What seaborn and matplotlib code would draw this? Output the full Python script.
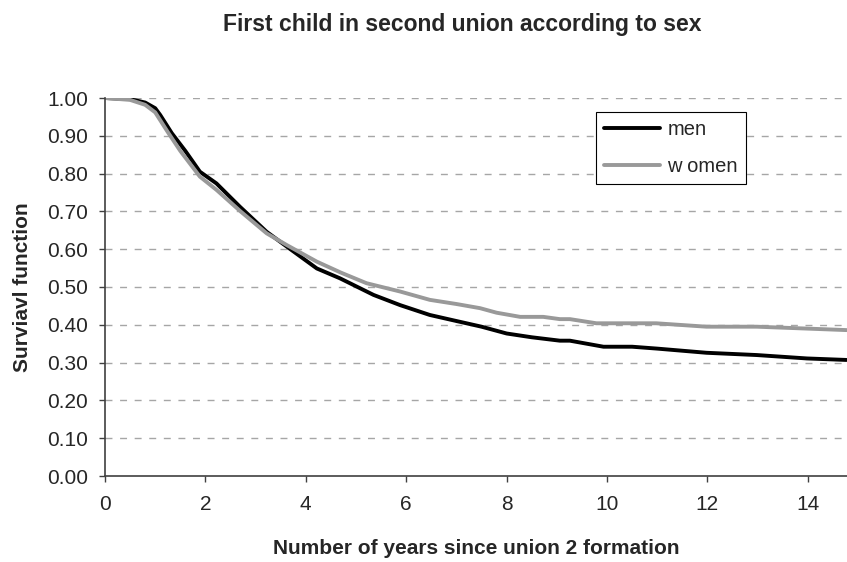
#!/usr/bin/env python3
"""
Survival curves: first child in second union, by sex
"""

import pandas as pd
import matplotlib.pyplot as plt
import seaborn as sns

# values
years_men = [0, 0.5, 0.8, 1.0, 1.1, 1.33, 1.6, 1.89, 2.22, 2.69, 3.22, 3.62, 4.22, 4.68,
             5.35, 5.88, 6.47, 7.0, 7.5, 8.0, 8.5, 9.06, 9.26, 9.93, 10.5, 11.0, 11.98,
             12.98, 13.98, 14.77]
surv_men = [1.0, 0.997, 0.988, 0.973, 0.955, 0.907, 0.86, 0.805, 0.774, 0.712, 0.646,
            0.607, 0.549, 0.523, 0.479, 0.452, 0.426, 0.41, 0.395, 0.377, 0.367, 0.358,
            0.358, 0.342, 0.342, 0.337, 0.326, 0.320, 0.311, 0.307]

years_women = [0, 0.5, 0.8, 1.0, 1.25, 1.5, 1.89, 2.22, 2.7, 3.22, 3.62, 4.22, 4.7,
               5.21, 5.88, 6.47, 7.0, 7.47, 7.8, 8.27, 8.73, 9.06, 9.26, 9.79, 10.98,
               11.98, 12.98, 13.98, 14.77]
surv_women = [1.0, 0.995, 0.982, 0.962, 0.91, 0.86, 0.792, 0.757, 0.70, 0.642, 0.611,
              0.567, 0.538, 0.510, 0.488, 0.466, 0.455, 0.444, 0.432, 0.421, 0.421, 0.415,
              0.415, 0.404, 0.404, 0.395, 0.395, 0.390, 0.386]

y_ticks = [0.0, 0.1, 0.2, 0.3, 0.4, 0.5, 0.6, 0.7, 0.8, 0.9, 1.0]
x_ticks = [0, 2, 4, 6, 8, 10, 12, 14]

df = pd.concat([
    pd.DataFrame({'years': years_men, 'surv': surv_men, 'sex': 'men'}),
    pd.DataFrame({'years': years_women, 'surv': surv_women, 'sex': 'w omen'}),
])

sns.set_style('white')
plt.rcParams['font.family'] = ['Liberation Sans', 'DejaVu Sans']

fig = plt.figure(figsize=(8.47, 5.62), dpi=100)
ax = fig.add_axes([105 / 847, 1 - 476 / 562, 742 / 847, 378 / 562])

sns.lineplot(data=df, x='years', y='surv', hue='sex', estimator=None, sort=True,
             palette={'men': 'black', 'w omen': '#999999'}, linewidth=2.8, ax=ax)

# dashed horizontal grid
for v in y_ticks[1:]:
    ax.axhline(v, color='#a6a6a6', linestyle=(0, (5, 5.5)), linewidth=1, zorder=0)

ax.set_xlim(0, 14.78)
ax.set_ylim(0, 1.0)
ax.set_xticks(x_ticks)
ax.set_yticks(y_ticks)
ax.set_yticklabels([f'{v:.2f}' for v in y_ticks], fontsize=15)
ax.set_xticklabels([str(v) for v in x_ticks], fontsize=15)
ax.tick_params(axis='y', direction='out', length=4, width=1, color='#404040',
               left=True, pad=8)
ax.tick_params(axis='x', direction='out', length=4, width=1, color='#404040',
               bottom=True, pad=10)

for side in ['top', 'right']:
    ax.spines[side].set_visible(False)
for side in ['left', 'bottom']:
    ax.spines[side].set_color('#404040')
    ax.spines[side].set_linewidth(1.2)

ax.set_xlabel('Number of years since union 2 formation', fontsize=15, fontweight='bold',
              labelpad=18)
ax.set_ylabel('Surviavl function', fontsize=15, fontweight='bold', labelpad=11)

fig.text(462 / 847, 1 - 25 / 562, 'First child in second union according to sex',
         ha='center', va='center', fontsize=16.5, fontweight='bold')

leg = ax.legend(loc='upper left', bbox_to_anchor=(491 / 742, 1 - 14 / 378),
                borderaxespad=0, fontsize=14.5, frameon=True, fancybox=False,
                handlelength=2.8, handletextpad=0.35, labelspacing=0.9, borderpad=0.4)
leg.get_frame().set_edgecolor('black')
leg.get_frame().set_linewidth(0.8)
leg.get_frame().set_alpha(1)

plt.savefig('out.png', dpi=100)
